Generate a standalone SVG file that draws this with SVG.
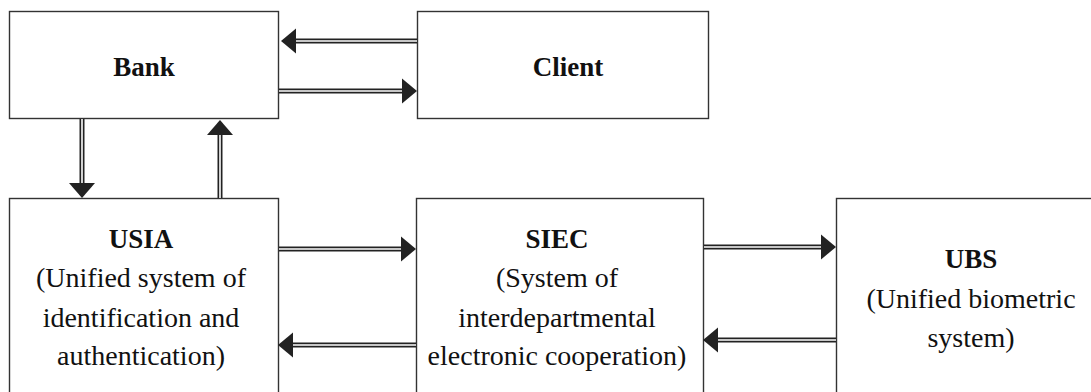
<svg xmlns="http://www.w3.org/2000/svg" width="1091" height="392" viewBox="0 0 1091 392">
  <style>
    .box { fill: #ffffff; stroke: #333333; stroke-width: 1.4; }
    .title { font-family: "Liberation Serif", "Times New Roman", serif; font-weight: bold; font-size: 27px; fill: #111111; text-anchor: middle; }
    .desc { font-family: "Liberation Serif", "Times New Roman", serif; font-size: 28px; fill: #111111; text-anchor: middle; }
    .rail { fill: none; stroke: #222222; stroke-width: 5; }
    .gap { fill: none; stroke: #ffffff; stroke-width: 1.6; }
    .head { fill: #222222; }
  </style>
  <rect width="1091" height="392" fill="#ffffff"/>

  <g id="bank">
    <rect class="box" x="9.5" y="11.5" width="269" height="107"/>
    <text class="title" x="144" y="76">Bank</text>
  </g>

  <g id="client">
    <rect class="box" x="417.5" y="11.5" width="291" height="107"/>
    <text class="title" x="568" y="76">Client</text>
  </g>

  <g id="usia">
    <rect class="box" x="9.5" y="198.5" width="269" height="210"/>
    <text class="title" x="141" y="248">USIA</text>
    <text class="desc" x="141" y="287">(Unified system of</text>
    <text class="desc" x="141" y="327">identification and</text>
    <text class="desc" x="141" y="365">authentication)</text>
  </g>

  <g id="siec">
    <rect class="box" x="416.5" y="198.5" width="287" height="210"/>
    <text class="title" x="557" y="248">SIEC</text>
    <text class="desc" x="557" y="287">(System of</text>
    <text class="desc" x="557" y="327">interdepartmental</text>
    <text class="desc" x="557" y="365">electronic cooperation)</text>
  </g>

  <g id="ubs">
    <rect class="box" x="836.5" y="198.5" width="270" height="210"/>
    <text class="title" x="971" y="268">UBS</text>
    <text class="desc" x="971" y="308">(Unified biometric</text>
    <text class="desc" x="971" y="347">system)</text>
  </g>

  <g id="connectors">
    <!-- Client to Bank -->
    <path class="rail" d="M417 41 H294"/>
    <path class="gap" d="M417 41 H294"/>
    <polygon class="head" points="281,41 296,28.5 296,53.5"/>
    <!-- Bank to Client -->
    <path class="rail" d="M279 91 H404"/>
    <path class="gap" d="M279 91 H404"/>
    <polygon class="head" points="417,91 402,78.5 402,103.5"/>
    <!-- Bank to USIA -->
    <path class="rail" d="M82 119 V185"/>
    <path class="gap" d="M82 119 V185"/>
    <polygon class="head" points="82,198 69,183 95,183"/>
    <!-- USIA to Bank -->
    <path class="rail" d="M220 198 V133"/>
    <path class="gap" d="M220 198 V133"/>
    <polygon class="head" points="220,120 207,135 233,135"/>
    <!-- USIA to SIEC -->
    <path class="rail" d="M279 249 H402"/>
    <path class="gap" d="M279 249 H402"/>
    <polygon class="head" points="416,249 401,236.5 401,261.5"/>
    <!-- SIEC to USIA -->
    <path class="rail" d="M416 345 H291"/>
    <path class="gap" d="M416 345 H291"/>
    <polygon class="head" points="278,345 293,332.5 293,357.5"/>
    <!-- SIEC to UBS -->
    <path class="rail" d="M704 247 H823"/>
    <path class="gap" d="M704 247 H823"/>
    <polygon class="head" points="836,247 821,234.5 821,259.5"/>
    <!-- UBS to SIEC -->
    <path class="rail" d="M836 340 H716"/>
    <path class="gap" d="M836 340 H716"/>
    <polygon class="head" points="703,340 718,327.5 718,352.5"/>
  </g>
</svg>
